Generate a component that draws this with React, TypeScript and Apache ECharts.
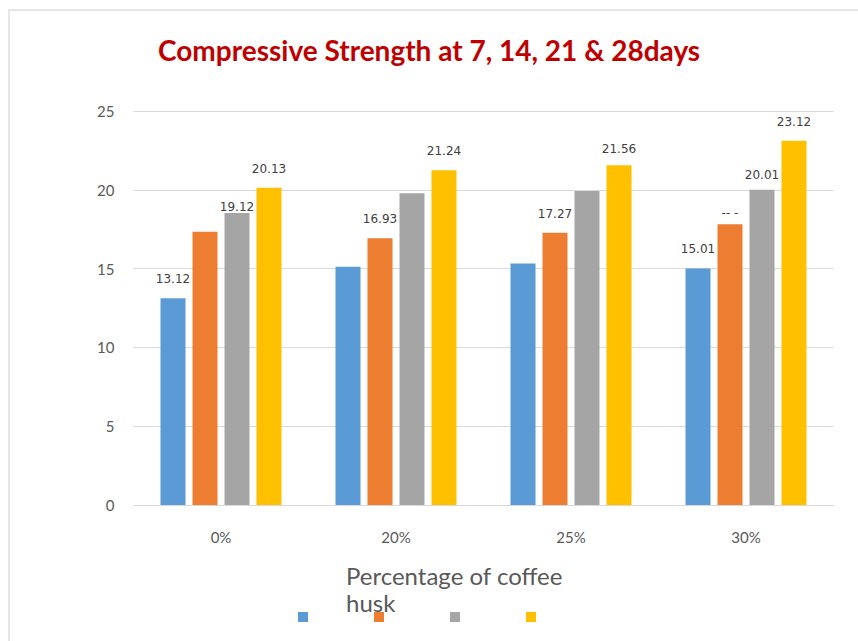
import React, { useEffect, useRef } from "react";
import * as echarts from "echarts";

const categories = ["0%", "20%", "25%", "30%"];
const seriesNames = ["7 days", "14 days", "21 days", "28 days"];
const days7 = [13.12, 15.12, 15.33, 15.01];
const days14 = [17.34, 16.93, 17.27, 17.81];
const days21 = [18.52, 19.78, 19.92, 20.01];
const days28 = [20.13, 21.24, 21.56, 23.12];
const labels7 = ["13.12", "", "", "15.01"];
const labels14 = ["", "16.93", "17.27", "-- -"];
const labels21 = ["19.12", "", "", "20.01"];
const labels28 = ["20.13", "21.24", "21.56", "23.12"];
const yTicks = [0, 5, 10, 15, 20, 25];

const colors = ["#5B9BD5", "#ED7D31", "#A5A5A5", "#FFC000"];
// label distance overrides (styling)
const labelDist: Record<string, number> = { "2-0": 0, "1-3": 5, "3-2": 10, "2-3": 9 };

export default function App() {
  const ref = useRef<HTMLDivElement>(null);
  useEffect(() => {
    if (!ref.current) return;
    const chart = echarts.init(ref.current, null, { renderer: "svg" });
    const values = [days7, days14, days21, days28];
    const labels = [labels7, labels14, labels21, labels28];
    const series = values.map((vals, si) => ({
      type: "bar",
      name: seriesNames[si],
      barWidth: 25,
      barGap: "28%",
      itemStyle: { color: colors[si] },
      data: vals.map((v, ci) => ({
        value: v,
        label: {
          show: labels[si][ci] !== "",
          position: "top",
          distance: labelDist[`${si}-${ci}`] ?? 13,
          formatter: () => labels[si][ci],
          color: "#404040",
          fontFamily: "DejaVu Sans",
          fontSize: 12,
        },
      })),
    }));
    chart.setOption({
      animation: false,
      backgroundColor: "#ffffff",
      title: {
        text: "Compressive Strength at 7, 14, 21 & 28days",
        left: 153,
        top: 31,
        textStyle: {
          color: "#C00000",
          fontWeight: "bold",
          fontFamily: "Lato",
          fontSize: 28,
        },
      },
      grid: { left: 133.5, right: 24.5, top: 111, bottom: 136 },
      legend: {
        left: 293,
        top: 607,
        icon: "rect",
        itemWidth: 10,
        itemHeight: 10,
        itemGap: 66,
        formatter: () => "",
        selectedMode: false,
        data: seriesNames,
      },
      xAxis: {
        type: "category",
        data: categories,
        axisLine: { lineStyle: { color: "#d9d9d9" } },
        axisTick: { show: false },
        axisLabel: {
          color: "#595959",
          fontFamily: "Lato",
          fontSize: 15,
          margin: 24,
        },
      },
      yAxis: {
        type: "value",
        min: yTicks[0],
        max: yTicks[yTicks.length - 1],
        interval: 5,
        axisLine: { show: false },
        axisTick: { show: false },
        splitLine: { lineStyle: { color: "#d9d9d9" } },
        axisLabel: {
          color: "#595959",
          fontFamily: "Lato",
          fontSize: 15,
          margin: 19,
        },
      },
      graphic: [
        {
          type: "rect",
          shape: { x: 9, y: 10, width: 1000, height: 800 },
          style: { fill: "none", stroke: "#e6e6e6", lineWidth: 2 },
          silent: true,
        },
        {
          type: "text",
          left: 346,
          top: 562,
          style: {
            text: "Percentage of coffee\nhusk",
            fill: "#595959",
            font: "24px Lato",
            lineHeight: 27,
          },
        },
      ],
      series,
    });
    return () => chart.dispose();
  }, []);
  return (
    <div
      ref={ref}
      style={{ position: "fixed", left: 0, top: 0, width: 858, height: 641 }}
    />
  );
}
